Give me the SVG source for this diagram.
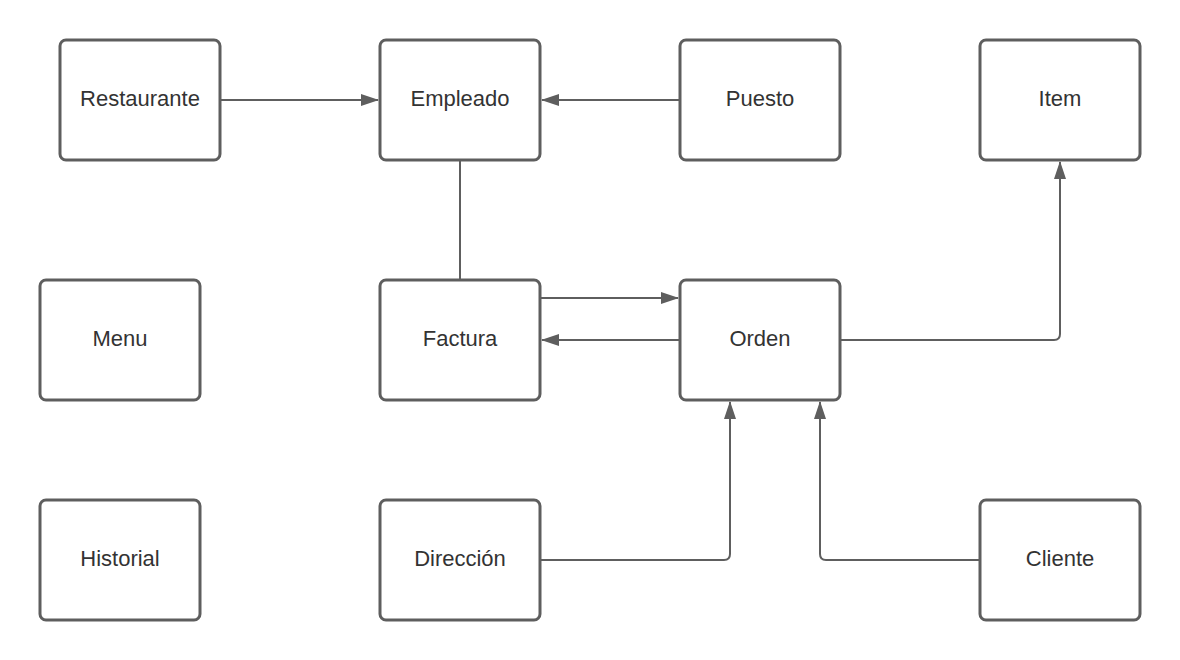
<svg xmlns="http://www.w3.org/2000/svg" width="1180" height="660" viewBox="0 0 1180 660">
<style>
.box{fill:#ffffff;stroke:#5e5e5e;stroke-width:3}
.lbl{font-family:"Liberation Sans",Arial,sans-serif;font-size:22px;fill:#333333;text-anchor:middle}
.edge{fill:none;stroke:#5e5e5e;stroke-width:2}
</style>
<defs>
<marker id="arr" viewBox="0 0 18 12" refX="17" refY="6" markerWidth="18" markerHeight="12" markerUnits="userSpaceOnUse" orient="auto">
<path d="M0,0 L18,6 L0,12 Z" fill="#5e5e5e"/>
</marker>
</defs>
<rect width="1180" height="660" fill="#ffffff"/>
<g id="connectors">
<path class="edge" d="M220,100 H378" marker-end="url(#arr)"/>
<path class="edge" d="M680,100 H542" marker-end="url(#arr)"/>
<path class="edge" d="M460,160 V280"/>
<path class="edge" d="M540,298 H678" marker-end="url(#arr)"/>
<path class="edge" d="M680,340 H542" marker-end="url(#arr)"/>
<path class="edge" d="M840,340 H1054 Q1060,340 1060,334 V162" marker-end="url(#arr)"/>
<path class="edge" d="M540,560 H724 Q730,560 730,554 V402" marker-end="url(#arr)"/>
<path class="edge" d="M980,560 H826 Q820,560 820,554 V402" marker-end="url(#arr)"/>
</g>
<g id="restaurante"><rect class="box" x="60" y="40" width="160" height="120" rx="6"/><text class="lbl" x="140" y="106">Restaurante</text></g>
<g id="empleado"><rect class="box" x="380" y="40" width="160" height="120" rx="6"/><text class="lbl" x="460" y="106">Empleado</text></g>
<g id="puesto"><rect class="box" x="680" y="40" width="160" height="120" rx="6"/><text class="lbl" x="760" y="106">Puesto</text></g>
<g id="item"><rect class="box" x="980" y="40" width="160" height="120" rx="6"/><text class="lbl" x="1060" y="106">Item</text></g>
<g id="menu"><rect class="box" x="40" y="280" width="160" height="120" rx="6"/><text class="lbl" x="120" y="346">Menu</text></g>
<g id="factura"><rect class="box" x="380" y="280" width="160" height="120" rx="6"/><text class="lbl" x="460" y="346">Factura</text></g>
<g id="orden"><rect class="box" x="680" y="280" width="160" height="120" rx="6"/><text class="lbl" x="760" y="346">Orden</text></g>
<g id="historial"><rect class="box" x="40" y="500" width="160" height="120" rx="6"/><text class="lbl" x="120" y="566">Historial</text></g>
<g id="direccion"><rect class="box" x="380" y="500" width="160" height="120" rx="6"/><text class="lbl" x="460" y="566">Dirección</text></g>
<g id="cliente"><rect class="box" x="980" y="500" width="160" height="120" rx="6"/><text class="lbl" x="1060" y="566">Cliente</text></g>
</svg>
